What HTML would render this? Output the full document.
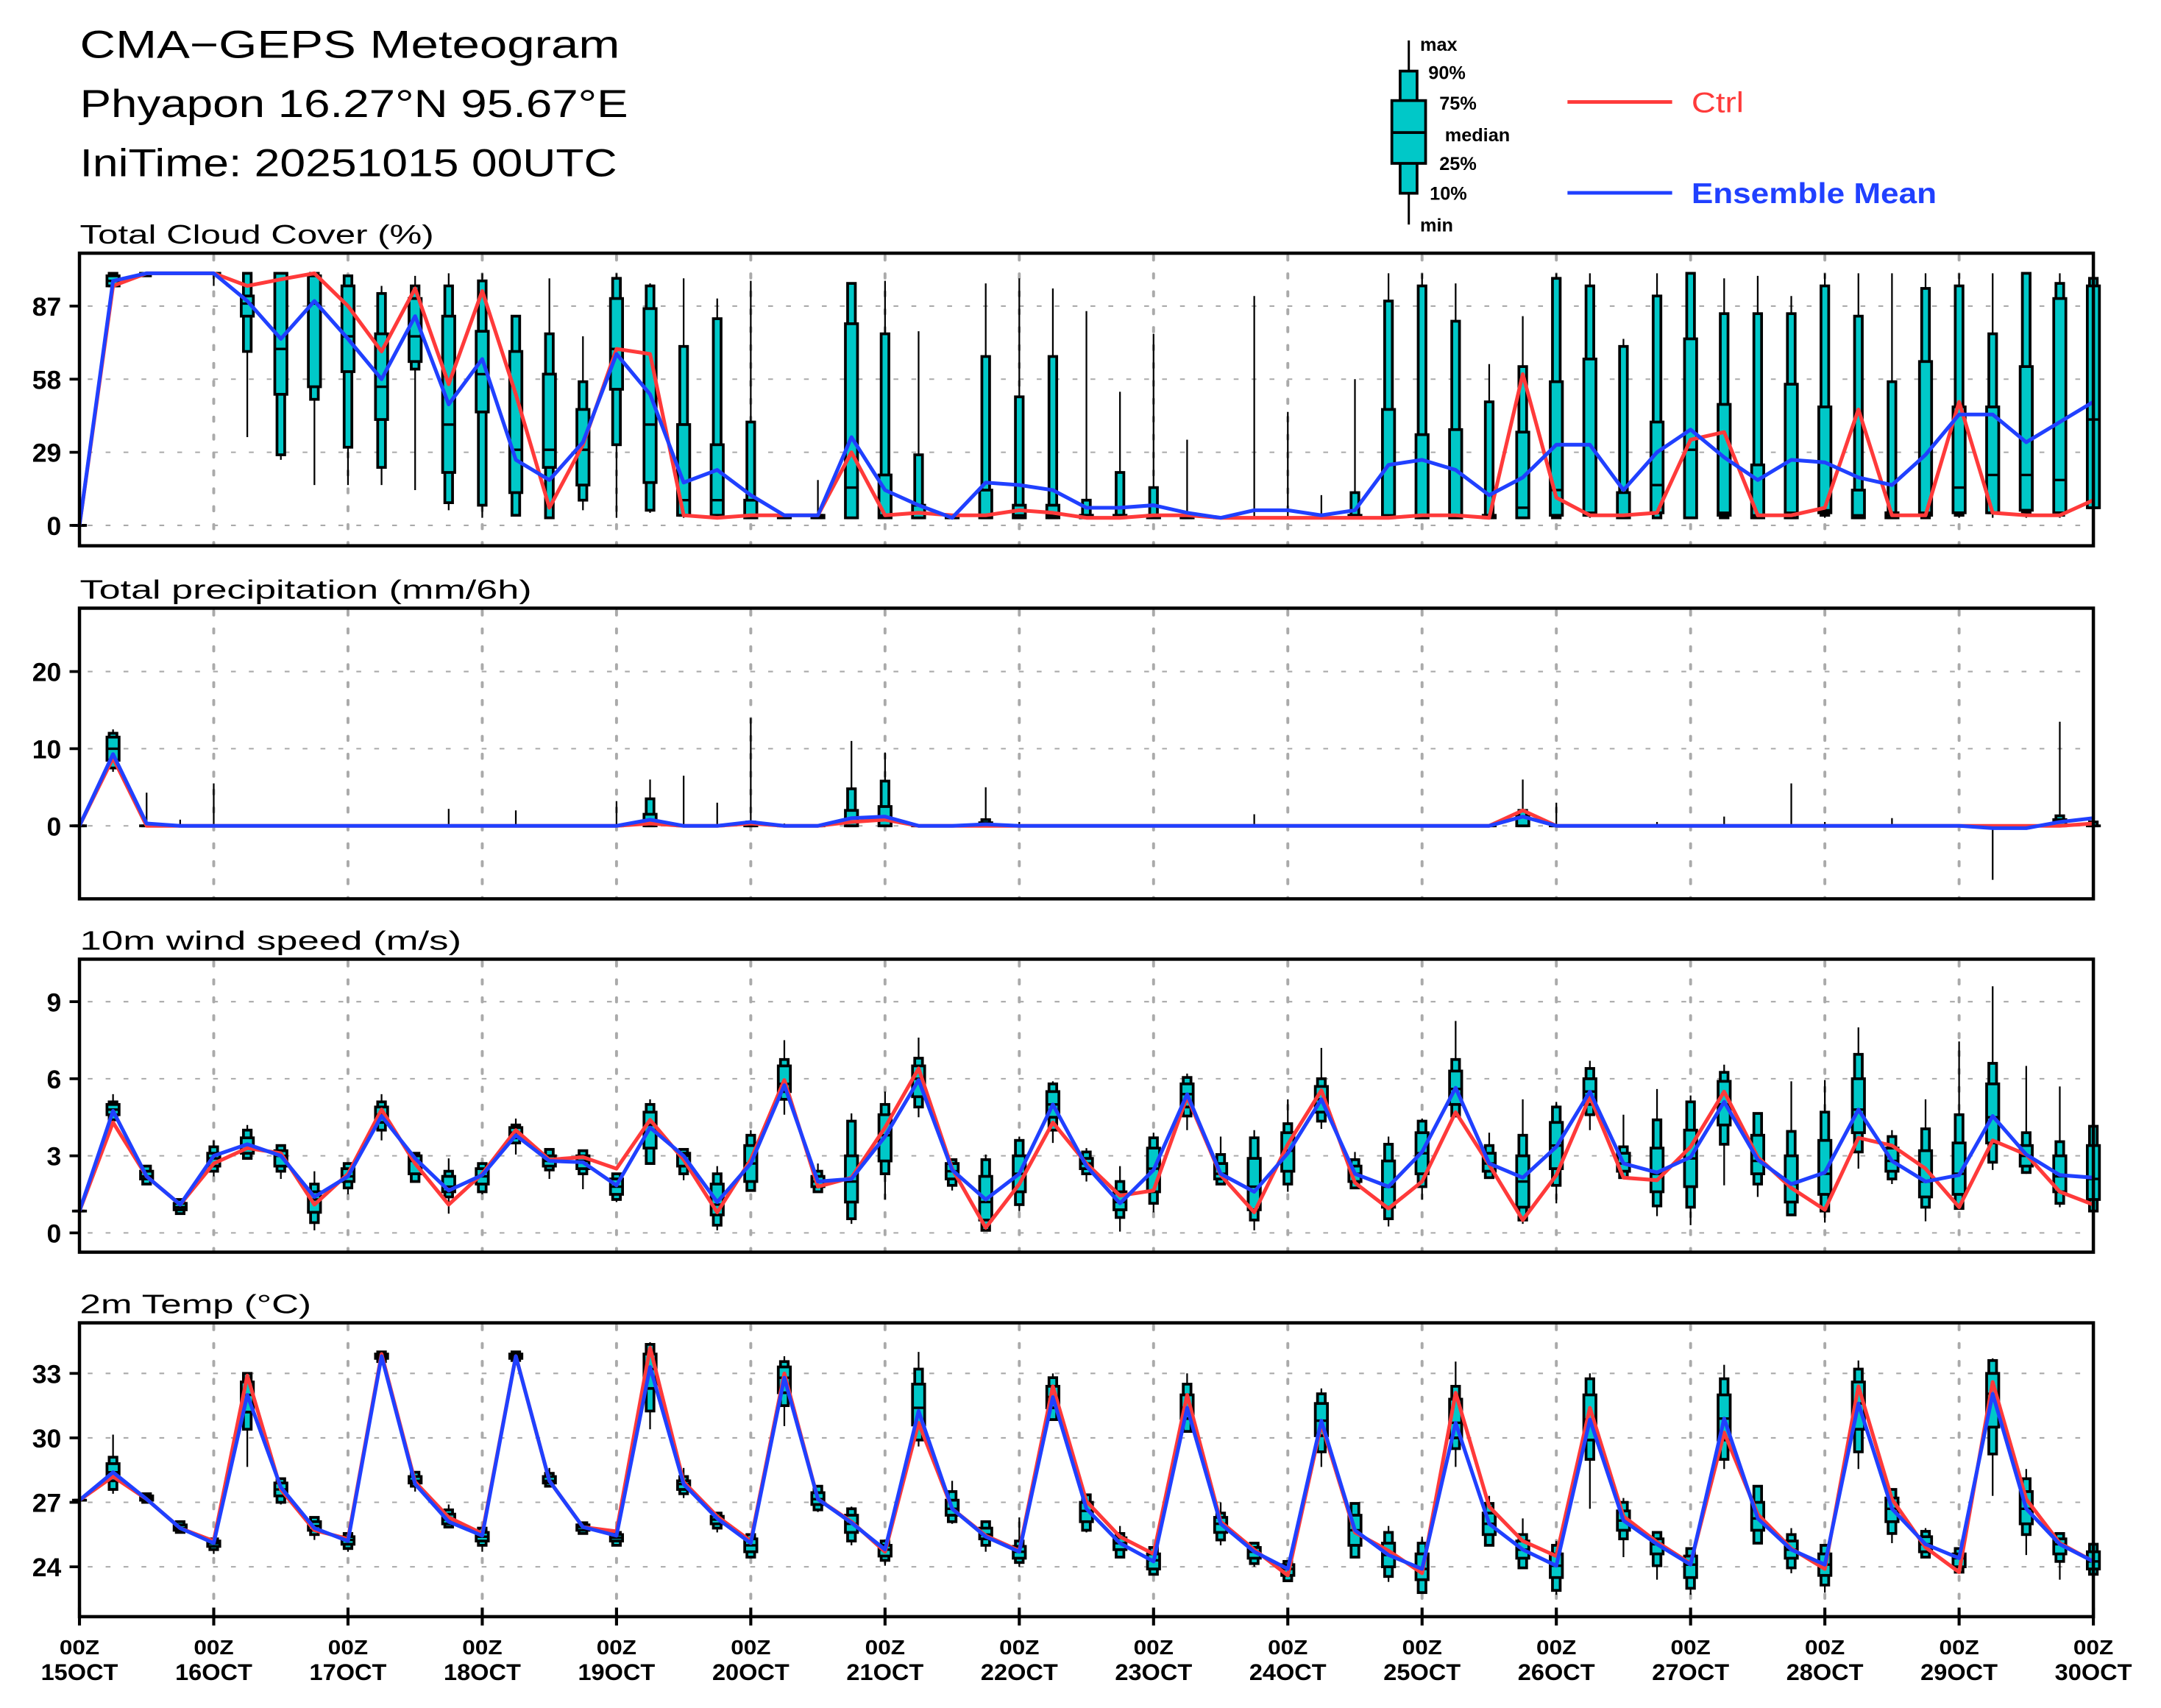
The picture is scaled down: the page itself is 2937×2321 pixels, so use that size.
<!DOCTYPE html>
<html><head><meta charset="utf-8"><title>CMA-GEPS Meteogram</title>
<style>
html,body{margin:0;padding:0;background:#fff;}
svg{display:block;}
text{font-family:"Liberation Sans",sans-serif;}
</style></head>
<body>
<svg id="chart" xmlns="http://www.w3.org/2000/svg" width="2937" height="2321" viewBox="0 0 1568.9 1239.9" preserveAspectRatio="none">
<rect x="0" y="0" width="1568.9" height="1239.9" fill="#fff"/>
<g>
<text x="58" y="42" font-size="28" textLength="392" lengthAdjust="spacingAndGlyphs">CMA−GEPS Meteogram</text>
<text x="58" y="85" font-size="28" textLength="398" lengthAdjust="spacingAndGlyphs">Phyapon 16.27°N 95.67°E</text>
<text x="58" y="128" font-size="28" textLength="390" lengthAdjust="spacingAndGlyphs">IniTime: 20251015 00UTC</text>
</g>
<g>
<line x1="1022.8" y1="29.4" x2="1022.8" y2="163" stroke="#000" stroke-width="1.6"/>
<rect x="1016.5" y="51.6" width="12.3" height="88.7" fill="#00c8c8" stroke="#000" stroke-width="2"/>
<rect x="1010.5" y="73" width="24.5" height="45.6" fill="#00c8c8" stroke="#000" stroke-width="2"/>
<line x1="1010.5" y1="96.2" x2="1035" y2="96.2" stroke="#000" stroke-width="2"/>
<g font-size="13.5" font-weight="bold">
<text x="1031" y="37">max</text>
<text x="1037" y="57.5">90%</text>
<text x="1045" y="79.5">75%</text>
<text x="1049" y="102.5">median</text>
<text x="1045" y="123.5">25%</text>
<text x="1038" y="145">10%</text>
<text x="1031" y="168">min</text>
</g>
<line x1="1138" y1="74" x2="1214" y2="74" stroke="#ff3a3a" stroke-width="2.6"/>
<text x="1228" y="81.5" font-size="21" fill="#ff3a3a" textLength="38" lengthAdjust="spacingAndGlyphs">Ctrl</text>
<line x1="1138" y1="140" x2="1214" y2="140" stroke="#2040ff" stroke-width="2.6"/>
<text x="1228" y="147.5" font-size="21" font-weight="bold" fill="#2040ff" textLength="178" lengthAdjust="spacingAndGlyphs">Ensemble Mean</text>
</g>
<g id="panels"></g>
</svg>
<script>
// ---- time axis ----
const dayLabels = ["15OCT","16OCT","17OCT","18OCT","19OCT","20OCT","21OCT","22OCT","23OCT","24OCT","25OCT","26OCT","27OCT","28OCT","29OCT","30OCT"];
const hourLabel = "00Z";

// ---- Total cloud cover (%) ----
const cloudTicks = [0,29,58,87];
const cloudMin = [0,94,99,100,95,35,26,16,16,16, 14,6,3,4,3,6,3,5,3,3, 3,3,3,3,3,3,3,3,3,3, 3,3,3,3,3,3,3,3,3,3, 3,3,3,3,3,3,3,3,3,3, 3,3,3,3,3,3,3,3,3,3, 3];
const cloudP10 = [0,95,99,100,100,69,28,50,31,23, 62,9,8,4,3,10,32,6,4,3, 3,3,3,3,3,3,3,3,3,3, 3,3,3,3,3,3,3,3,3,3, 3,3,3,3,3,4,3,3,3,3, 3,3,4,3,3,3,4,5,5,4, 7];
const cloudP25 = [0,95,100,100,100,83,52,55,61,42, 65,21,45,13,23,16,54,17,4,4, 3,3,3,3,3,3,3,3,3,3, 3,3,3,3,3,3,3,3,3,3, 3,3,3,3,4,4,3,5,3,4, 3,3,5,3,3,4,5,5,6,5, 7];
const cloudMed = [0,97,100,100,100,88,70,88,75,55, 75,40,60,30,30,30,70,40,10,10, 4,3,3,15,4,3,3,4,4,4, 3,3,3,3,3,3,3,3,3,4, 4,4,3,7,14,5,4,16,30,5, 4,5,6,4,4,5,15,20,20,18, 42];
const cloudP75 = [0,99,100,100,100,91,100,99,95,76, 90,83,77,69,60,46,90,86,40,32, 10,4,4,80,20,8,3,14,8,8, 4,4,4,3,3,3,3,3,4,46, 36,38,4,37,57,66,13,41,74,48, 24,56,47,14,5,65,47,47,63,90, 95];
const cloudP90 = [0,100,100,100,100,100,100,100,99,92, 95,95,97,83,76,57,98,95,71,82, 41,4,4,96,76,28,3,67,51,67, 10,21,15,3,3,3,3,3,13,89, 95,81,49,63,98,95,71,91,100,84, 84,84,95,83,57,94,95,76,100,96, 98];
const cloudMax = [0,100,100,100,100,100,100,100,99,95, 99,100,100,83,98,75,100,96,98,90, 97,4,18,96,97,77,4,96,98,94, 85,53,76,34,3,91,45,12,58,100, 100,96,64,83,100,100,74,100,100,98, 99,91,100,100,100,100,100,100,100,100, 100];
const cloudCtrl = [0,95,100,100,100,95,97.6,100,87,69, 94,56,93,52,7,32,70,68,4,3, 4,4,4,29,4,5,4,4,6,5, 3,3,4,4,3,3,3,3,3,3, 4,4,3,60,11,4,4,5,34,37, 4,4,7,46,4,4,49,5,4,4, 10];
const cloudMean = [0,97,100,100,100,89,74,89,74,58, 83,48,66,26,18,33,68,52,17,22, 12,4,4,35,14,8,3,17,16,14, 7,7,8,5,3,6,6,4,6,24, 26,22,12,19,32,32,14,29,38,27, 18,26,25,19,16,28,44,44,33,41, 49];

// ---- Total precipitation (mm/6h) ----
const precTicks = [0,10,20];
const precMin = [0,7,0,0,0,0,0,0,0,0, 0,0,0,0,0,0,0,0,0,0, 0,0,0,0,0,0,0,0,0,0, 0,0,0,0,0,0,0,0,0,0, 0,0,0,0,0,0,0,0,0,0, 0,0,0,0,0,0,0,-7,0,0, 0];
const precP10 = [0,7.5,0,0,0,0,0,0,0,0, 0,0,0,0,0,0,0,0,0,0, 0,0,0,0,0,0,0,0,0,0, 0,0,0,0,0,0,0,0,0,0, 0,0,0,0,0,0,0,0,0,0, 0,0,0,0,0,0,0,0,0,0, 0];
const precP25 = [0,8.5,0,0,0,0,0,0,0,0, 0,0,0,0,0,0,0,0,0,0, 0,0,0,0,0,0,0,0,0,0, 0,0,0,0,0,0,0,0,0,0, 0,0,0,0,0,0,0,0,0,0, 0,0,0,0,0,0,0,0,0,0, 0];
const precMed = [0,10,0,0,0,0,0,0,0,0, 0,0,0,0,0,0,0,0,0,0, 0,0,0,0,0,0,0,0,0,0, 0,0,0,0,0,0,0,0,0,0, 0,0,0,0,0,0,0,0,0,0, 0,0,0,0,0,0,0,0,0,0, 0];
const precP75 = [0,11.5,0,0,0,0,0,0,0,0, 0,0,0,0,0,0,0,1.5,0,0, 0,0,0,2,2.5,0,0,0.4,0,0, 0,0,0,0,0,0,0,0,0,0, 0,0,0,1.2,0,0,0,0,0,0, 0,0,0,0,0,0,0,0,0,0.8, 0];
const precP90 = [0,12,0,0,0,0,0,0,0,0, 0,0,0,0,0,0,0,3.5,0,0, 0.5,0,0,4.8,5.8,0,0,0.8,0,0, 0,0,0,0,0,0,0,0,0,0, 0,0,0,2,0,0,0,0,0,0, 0,0,0,0,0,0,0,0,0,1.3, 0.5];
const precMax = [0,12.5,4.3,0.8,5.5,0,0,0,0,0, 0,2.2,0,2,0,0,3.2,6,6.5,3, 14,0.3,0,11,9.5,0,0,5,0.5,0, 0,0,0,0,0,1.5,0,0,0,0, 0,0,0,6,3,0,0,0.5,0,1.2, 0,5.5,0.5,0,1,0,0,0,0,13.5, 1.5];
const precCtrl = [0,8.8,0,0,0,0,0,0,0,0, 0,0,0,0,0,0,0,0.3,0,0, 0.3,0,0,0.5,0.8,0,0,0,0,0, 0,0,0,0,0,0,0,0,0,0, 0,0,0,2,0,0,0,0,0,0, 0,0,0,0,0,0,0,0,0,0, 0.3];
const precMean = [0,9.3,0.3,0,0,0,0,0,0,0, 0,0,0,0,0,0,0,0.8,0,0, 0.5,0,0,1.0,1.2,0,0,0.2,0,0, 0,0,0,0,0,0,0,0,0,0, 0,0,0,1.2,0,0,0,0,0,0, 0,0,0,0,0,0,0,-0.3,-0.3,0.5, 1.0];

// ---- 10m wind speed (m/s) ----
const windTicks = [0,3,6,9];
const windMin = [.85,4.4,1.9,.75,2.2,2.9,2.1,0.1,1.5,3.6, 2.0,.75,1.5,3.05,2.1,1.7,1.2,2.7,2.05,0.1, 1.65,4.6,1.6,0.35,1.3,4.5,1.65,0.1,0.85,3.5, 2.0,0.05,0.8,4.0,1.9,0.1,1.6,4.05,1.75,0.25, 1.3,4.5,2.15,0.35,1.15,4.0,2.15,0.65,0.3,1.85, 1.4,0.7,0.4,2.5,1.9,0.45,0.95,2.45,2.3,1.0, 0.8];
const windP10 = [.85,4.4,1.9,.75,2.4,2.9,2.4,0.4,1.75,4.0, 2.0,1.4,1.6,3.5,2.45,2.3,1.3,2.7,2.3,0.3, 1.65,5.2,1.6,0.55,2.3,4.9,1.85,0.1,1.1,4.0, 2.3,0.6,1.15,4.55,1.9,0.5,1.9,4.35,1.75,0.55, 1.8,4.55,2.15,0.5,1.85,4.6,2.15,1.05,1.0,3.45, 1.9,0.7,0.85,3.15,2.1,1.0,0.95,2.75,2.35,1.15, 0.85];
const windP25 = [.85,4.6,2.1,.9,2.6,3.1,2.6,0.8,2.0,4.3, 2.3,1.6,1.9,3.7,2.6,2.5,1.5,3.3,2.6,0.7, 2.0,5.5,1.8,1.2,2.8,5.3,2.1,0.5,1.6,4.5, 2.5,0.9,1.6,4.9,2.1,0.9,2.4,4.7,2.0,1.0, 2.3,5.0,2.4,1.0,2.5,5.0,2.4,1.6,1.8,4.2, 2.3,1.2,1.5,3.9,2.4,1.4,1.5,3.5,2.6,1.6, 1.3];
const windMed = [.85,4.8,2.2,1.0,2.9,3.4,3.0,1.3,2.2,4.6, 2.8,1.8,2.2,3.9,2.8,2.8,1.8,4.2,3.0,1.1, 2.7,5.8,2.0,2.0,3.8,6.0,2.4,1.2,2.3,5.0, 2.7,1.2,2.5,5.4,2.3,1.8,3.2,5.2,2.3,1.8, 3.1,5.6,2.7,2.0,3.4,5.5,2.7,2.3,2.9,5.0, 2.8,1.9,2.3,4.8,2.8,2.0,2.3,4.5,3.0,2.2, 2.1];
const windP75 = [.85,5.0,2.4,1.15,3.1,3.7,3.2,1.6,2.5,4.9, 3.0,2.2,2.5,4.1,3.0,3.0,2.1,4.7,3.1,1.9, 3.4,6.5,2.2,3.0,4.6,6.5,2.7,2.2,3.0,5.5, 2.9,1.6,3.3,5.8,2.7,2.9,3.9,5.7,2.6,2.8, 3.9,6.3,3.1,3.0,4.3,6.0,3.1,3.3,4.0,5.9, 3.8,3.0,3.6,6.0,3.3,3.2,3.5,5.8,3.4,3.0, 3.4];
const windP90 = [.85,5.1,2.6,1.3,3.35,4.0,3.4,1.9,2.7,5.1, 3.1,2.4,2.7,4.2,3.25,3.2,2.3,5.0,3.25,2.3, 3.8,6.75,2.4,4.35,5.0,6.8,2.85,2.85,3.6,5.8, 3.15,2.0,3.7,6.05,3.05,3.7,4.25,6.0,2.85,3.45, 4.35,6.75,3.4,3.8,4.9,6.4,3.35,4.4,5.1,6.25, 4.65,3.95,4.7,6.95,3.75,4.05,4.6,6.6,3.9,3.55, 4.15];
const windMax = [.85,5.4,2.6,1.3,3.6,4.2,3.4,2.4,2.7,5.4, 3.1,2.9,2.7,4.45,3.25,3.2,2.3,5.2,3.25,2.6, 4.0,7.5,2.7,4.65,5.5,7.6,2.85,3.05,3.75,5.9, 3.3,2.6,3.9,6.2,3.75,4.0,5.2,7.2,3.15,3.75, 4.45,8.25,3.9,5.2,5.1,6.7,4.6,5.6,5.35,6.55, 4.65,5.9,5.95,8.0,4.0,5.2,7.45,9.6,6.5,5.7, 4.15];
const windCtrl = [.85,4.3,2.2,1.1,2.7,3.3,3.1,1.1,2.3,4.8, 2.7,1.1,2.3,4.0,2.85,2.95,2.5,4.4,2.85,0.8, 2.85,5.95,1.8,2.15,4.1,6.4,2.5,0.2,1.9,4.3, 2.7,1.45,1.65,5.3,2.25,0.8,3.45,5.55,1.95,0.95, 2.0,4.7,2.65,0.5,2.25,5.3,2.15,2.05,3.35,5.5, 2.95,1.75,0.9,3.7,3.4,2.5,1.0,3.6,3.05,1.6, 1.1];
const windMean = [.85,4.75,2.2,1.1,3.0,3.45,3.0,1.4,2.2,4.55, 2.9,1.65,2.25,3.8,2.8,2.75,1.85,4.1,3.0,1.2, 2.7,5.75,2.0,2.1,3.75,5.95,2.45,1.3,2.3,5.0, 2.6,1.15,2.45,5.4,2.3,1.6,3.1,5.2,2.3,1.8, 3.15,5.65,2.7,2.15,3.35,5.5,2.7,2.35,2.95,5.1, 2.85,1.9,2.35,4.8,2.8,2.0,2.25,4.55,3.05,2.25, 2.15];

// ---- 2m temperature (C) ----
const tempTicks = [24,27,30,33];
const tempMin = [27.1,27.4,27.0,25.6,24.6,28.65,26.9,25.25,24.7,33.55, 27.5,25.85,24.7,33.6,27.75,25.55,25.0,30.4,27.2,25.6, 24.45,30.55,26.55,25.0,24.05,29.6,26.0,24.7,24.0,30.85, 25.6,24.45,23.65,30.3,25.0,24.0,23.35,28.65,24.45,23.3, 22.8,28.65,25.0,23.95,22.7,26.7,24.45,23.4,22.7,28.55, 25.1,23.7,22.8,28.55,25.1,24.45,23.75,27.3,24.55,23.4, 23.65];
const tempP10 = [27.1,27.6,27.0,25.6,24.8,30.4,27.0,25.5,24.85,33.55, 27.75,25.85,25.0,33.6,27.75,25.55,25.0,31.25,27.4,25.8, 24.45,31.5,26.65,25.2,24.3,29.9,26.1,25.0,24.2,30.85, 25.7,24.45,23.65,30.3,25.25,24.15,23.35,29.35,24.45,23.55, 22.8,29.5,25.0,23.95,22.9,29.0,25.3,24.05,23.0,29.0, 25.1,23.95,23.15,29.35,25.55,24.45,23.75,29.25,25.5,24.25, 23.65];
const tempP25 = [27.1,28.0,27.1,25.7,24.95,31.2,27.3,25.7,25.05,33.7, 27.9,26.0,25.2,33.7,27.9,25.7,25.2,32.3,27.6,26.0, 24.7,32.1,26.9,25.6,24.5,30.6,26.4,25.3,24.4,31.4, 26.1,24.8,23.9,30.9,25.6,24.4,23.6,30.1,25.0,24.0, 23.4,30.0,25.5,24.4,23.5,29.9,25.7,24.6,23.5,29.9, 25.7,24.4,23.6,30.4,26.1,24.7,24.0,30.5,26.0,24.6, 23.9];
const tempMed = [27.1,28.4,27.2,25.8,25.1,32.0,27.6,25.9,25.25,33.8, 28.0,26.2,25.4,33.8,28.0,25.85,25.35,33.2,27.85,26.2, 25.0,32.8,27.15,26.0,24.8,31.4,26.7,25.5,24.7,31.9, 26.6,25.1,24.3,31.4,26.0,24.7,23.9,30.8,25.7,24.55, 23.9,30.7,26.0,24.8,24.05,30.85,26.15,25.05,24.1,30.9, 26.25,24.8,24.1,31.6,26.7,25.05,24.4,32.05,26.7,25.05, 24.25];
const tempP75 = [27.1,28.8,27.3,25.95,25.2,32.6,27.9,26.1,25.4,33.9, 28.2,26.45,25.6,33.9,28.2,25.95,25.5,33.9,28.0,26.35, 25.3,33.3,27.45,26.4,25.0,32.5,27.1,25.8,24.95,32.4, 27.0,25.35,24.6,32.0,26.3,24.9,24.1,31.6,26.4,25.1, 24.6,31.8,26.5,25.2,24.6,32.0,26.6,25.3,24.5,32.0, 27.0,25.2,24.6,32.6,27.2,25.4,24.6,33.0,27.5,25.3, 24.7];
const tempP90 = [27.1,29.1,27.4,26.1,25.3,33.0,28.1,26.3,25.55,34.0, 28.4,26.65,25.8,34.0,28.35,26.05,25.6,34.35,28.2,26.5, 25.5,33.55,27.75,26.7,25.2,33.2,27.5,26.1,25.2,32.8, 27.35,25.55,24.9,32.5,26.5,25.1,24.25,32.05,26.95,25.6, 25.1,32.4,26.95,25.5,25.0,32.75,27.0,25.6,24.85,32.75, 27.75,25.5,25.0,33.2,27.6,25.65,24.85,33.6,28.1,25.55, 25.05];
const tempMax = [27.1,30.15,27.4,26.1,25.3,33.0,28.1,26.3,25.55,34.0, 28.4,26.9,25.8,34.0,28.6,26.05,25.6,34.45,28.6,26.5, 25.5,33.8,27.75,26.8,25.2,34.0,28.0,26.1,26.3,33.0, 27.35,25.9,24.9,33.0,27.0,25.1,24.25,32.3,26.95,25.9, 25.4,33.55,27.3,26.25,25.2,33.0,27.2,25.6,24.85,33.4, 27.75,25.8,25.0,33.6,27.65,25.8,24.85,33.7,28.55,25.55, 25.05];
const tempCtrl = [27.1,28.2,27.15,25.8,25.2,32.9,27.6,25.7,25.3,33.9, 27.95,26.3,25.55,33.8,28.0,25.85,25.65,34.2,27.95,26.35, 25.2,33.0,27.15,26.1,24.7,30.7,26.7,25.45,24.75,32.4, 27.05,25.4,24.6,32.0,26.1,24.8,23.6,30.65,25.6,24.75, 23.7,32.1,26.8,25.2,24.5,31.4,26.35,25.15,24.15,30.25, 26.45,24.85,23.9,32.4,27.15,24.9,23.75,32.6,27.15,25.1, 24.25];
const tempMean = [27.1,28.4,27.15,25.8,25.1,32.0,27.7,25.8,25.2,33.8, 27.85,26.1,25.45,33.8,28.0,25.85,25.45,33.3,27.85,26.25, 25.1,32.8,27.15,26.05,24.8,31.25,26.7,25.4,24.7,31.9, 26.7,25.1,24.25,31.4,26.0,24.7,23.9,30.8,25.7,24.55, 23.9,30.7,26.0,24.8,24.05,30.85,26.15,25.05,24.1,30.9, 26.25,24.8,24.1,31.6,26.7,25.05,24.4,32.05,26.7,25.05, 24.25];

// ---- layout (geometry only) ----
const NS = "http://www.w3.org/2000/svg";
const X0 = 57.7, X1 = 1519.8, NSTEP = 60;
function xAt(i){ return X0 + i*(X1-X0)/NSTEP; }
function mk(tag, attrs, parent){
  const e = document.createElementNS(NS, tag);
  for (const k in attrs) e.setAttribute(k, attrs[k]);
  parent.appendChild(e);
  return e;
}
const panelsG = document.getElementById("panels");

const panels = [
  {key:"cloud", title:"Total Cloud Cover (%)", titleW:257, top:183.8, bot:396.2, base:0, y0:381.4, k:1.830, ticks:cloudTicks,
   s:[cloudMin,cloudP10,cloudP25,cloudMed,cloudP75,cloudP90,cloudMax], ctrl:cloudCtrl, mean:cloudMean},
  {key:"precip", title:"Total precipitation (mm/6h)", titleW:328, top:441.5, bot:652.5, base:0, y0:599.5, k:5.6, ticks:precTicks,
   s:[precMin,precP10,precP25,precMed,precP75,precP90,precMax], ctrl:precCtrl, mean:precMean},
  {key:"wind", title:"10m wind speed (m/s)", titleW:277, top:696.3, bot:909, base:0, y0:895, k:18.65, ticks:windTicks,
   s:[windMin,windP10,windP25,windMed,windP75,windP90,windMax], ctrl:windCtrl, mean:windMean},
  {key:"temp", title:"2m Temp (°C)", titleW:168, top:960.3, bot:1173.6, base:24, y0:1137.4, k:15.6, ticks:tempTicks,
   s:[tempMin,tempP10,tempP25,tempMed,tempP75,tempP90,tempMax], ctrl:tempCtrl, mean:tempMean}
];

panels.forEach(function(p){
  const g = mk("g", {}, panelsG);
  
  
  const yv = function(v){ return p.y0 - (v - p.base)*p.k; };

  const title = mk("text", {x:58, y:p.top-7, "font-size":19.5, textLength:p.titleW, lengthAdjust:"spacingAndGlyphs"}, g);
  
  
  title.textContent = p.title;

  p.ticks.forEach(function(t){
    const y = yv(t);
    const gl = mk("line", {x1:X0+6, y1:y, x2:X1-2, y2:y, stroke:"#aaa", "stroke-width":1.1, "stroke-dasharray":"3.5 9.5"}, g);
    
    
    const tk = mk("line", {x1:50.5, y1:y, x2:X0, y2:y, stroke:"#000", "stroke-width":2}, g);
    
    
    const lb = mk("text", {x:44.5, y:y+7, "font-size":19, "font-weight":"bold", "text-anchor":"end"}, g);
    
    
    lb.textContent = String(t);
  });
  for (let d = 1; d < dayLabels.length-1; d++){
    const x = xAt(d*4);
    const vl = mk("line", {x1:x, y1:p.top+2, x2:x, y2:p.bot, stroke:"#aaa", "stroke-width":2.1, "stroke-dasharray":"3 10", "stroke-linecap":"round"}, g);
    
    
  }

  for (let i = 0; i <= NSTEP; i++){
    const x = xAt(i);
    const mn = yv(p.s[0][i]), p10 = yv(p.s[1][i]), p25 = yv(p.s[2][i]), md = yv(p.s[3][i]),
          p75 = yv(p.s[4][i]), p90 = yv(p.s[5][i]), mx = yv(p.s[6][i]);
    const bg = mk("g", {}, g);
    
    
    mk("line", {x1:x, y1:mx, x2:x, y2:mn, stroke:"#000", "stroke-width":1.2}, bg);
    mk("rect", {x:x-2.8, y:p90, width:5.6, height:Math.max(p10-p90,0.01), fill:"#00c8c8", stroke:"#000", "stroke-width":2}, bg);
    mk("rect", {x:x-4.4, y:p75, width:8.8, height:Math.max(p25-p75,0.01), fill:"#00c8c8", stroke:"#000", "stroke-width":2}, bg);
    mk("line", {x1:x-4.4, y1:md, x2:x+4.4, y2:md, stroke:"#000", "stroke-width":1.8}, bg);
  }

  let dC = "", dM = "";
  for (let i = 0; i <= NSTEP; i++){
    dC += (i ? "L" : "M") + xAt(i).toFixed(2) + " " + yv(p.ctrl[i]).toFixed(2);
    dM += (i ? "L" : "M") + xAt(i).toFixed(2) + " " + yv(p.mean[i]).toFixed(2);
  }
  const lc = mk("path", {d:dC, fill:"none", stroke:"#ff3a3a", "stroke-width":2.7, "stroke-linejoin":"round"}, g);
  
  
  const lm = mk("path", {d:dM, fill:"none", stroke:"#2040ff", "stroke-width":2.7, "stroke-linejoin":"round"}, g);
  
  

  const fr = mk("rect", {x:X0, y:p.top, width:X1-X0, height:p.bot-p.top, fill:"none", stroke:"#000", "stroke-width":2.4}, g);
  
  
});

const xg = mk("g", {}, panelsG);


dayLabels.forEach(function(lab, d){
  const x = xAt(d*4);
  const tk = mk("line", {x1:x, y1:1167, x2:x, y2:1180, stroke:"#000", "stroke-width":2.2}, xg);
  
  
  const t1 = mk("text", {x:x, y:1201, "font-size":15, "font-weight":"bold", "text-anchor":"middle", textLength:29, lengthAdjust:"spacingAndGlyphs"}, xg);
  
  
  t1.textContent = hourLabel;
  const t2 = mk("text", {x:x, y:1219.5, "font-size":17, "font-weight":"bold", "text-anchor":"middle", textLength:56, lengthAdjust:"spacingAndGlyphs"}, xg);
  
  
  t2.textContent = lab;
});
</script>
</body></html>
